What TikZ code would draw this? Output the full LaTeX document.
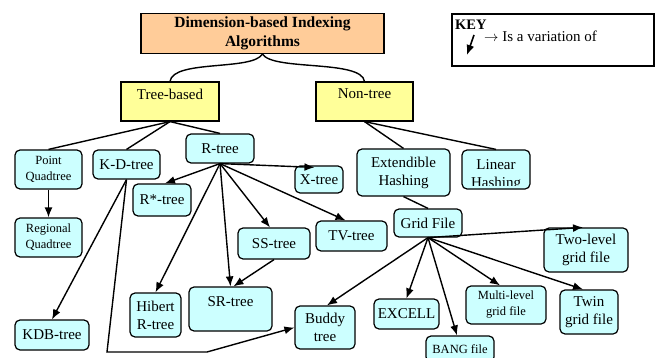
\documentclass[tikz,border=0pt]{standalone}
\usepackage{fontspec}
\setmainfont{Liberation Serif}
\usetikzlibrary{arrows.meta}
\definecolor{cyanfill}{HTML}{CCFFFF}
\definecolor{yellowfill}{HTML}{FFFF99}
\definecolor{peachfill}{HTML}{FFCC99}
\newcommand{\nrm}{\fontsize{15}{18}\selectfont}
\newcommand{\sml}{\fontsize{12.5}{16}\selectfont}
\tikzset{
  box/.style={draw, line width=1.2pt, rounded corners=5pt, fill=cyanfill, inner sep=1pt, align=center, font=\nrm},
  sbox/.style={box, font=\sml},
  catbox/.style={draw, line width=1.2pt, fill=yellowfill, align=center, font=\nrm, text depth=15pt},
  conn/.style={line width=1.4pt},
  arr/.style={line width=1.4pt, -{Latex[length=10pt,width=8pt]}},
}
\begin{document}
\begin{tikzpicture}[x=1pt,y=-1pt]
\useasboundingbox (0,0) rectangle (655,358);
\clip (0,0) rectangle (655,358);
% title and key
\node[draw, line width=1.2pt, fill=peachfill, minimum width=243pt, minimum height=39pt, align=center,
      font=\fontsize{15.5}{19}\bfseries] (title) at (262.5,33.5) {Dimension-based Indexing\\Algorithms};
\node[draw, line width=1.2pt, minimum width=202pt, minimum height=52pt] (key) at (553,40) {};
\node[font=\fontsize{14.5}{16}\bfseries, anchor=west, inner sep=0pt] (keyt) at (455,25) {KEY};
\node[font=\nrm, anchor=west, inner sep=0pt] (keyd) at (484,36) {$\rightarrow$ Is a variation of};
\coordinate (ka) at (474,35);
\coordinate (kb) at (467,55);
\draw[line width=1.6pt, -{Latex[length=10pt,width=8pt]}] (ka) -- (kb);
% categories
\node[catbox, minimum width=98pt, minimum height=39pt] (tree) at (170,101.5) {Tree-based};
\node[catbox, minimum width=97pt, minimum height=39pt] (nt) at (364.5,101.5) {Non-tree};
\draw[conn] (title.south) .. controls +(-10,17) and +(3,-22) .. (tree.north);
\draw[conn] (title.south) .. controls +(10,17) and +(-3,-22) .. (nt.north);
% tree-based nodes
\node[sbox, minimum width=67pt, minimum height=39pt] (pq) at (48.5,169.5) {Point\\Quadtree};
\node[box, minimum width=67pt, minimum height=29pt] (kd) at (126.5,164.5) {K-D-tree};
\node[box, minimum width=68pt, minimum height=29pt] (rt) at (220,148.5) {R-tree};
\node[box, minimum width=48pt, minimum height=27pt] (xt) at (319,179.5) {X-tree};
\node[box, minimum width=58pt, minimum height=32pt] (rst) at (162,200) {R*-tree};
\node[sbox, minimum width=67pt, minimum height=39pt] (rq) at (48.5,237.5) {Regional\\Quadtree};
\node[box, minimum width=72pt, minimum height=31pt] (ss) at (274,243.5) {SS-tree};
\node[box, minimum width=71pt, minimum height=30pt] (tv) at (351.5,236) {TV-tree};
\node[box, minimum width=51pt, minimum height=44pt] (hib) at (155.5,315) {Hibert\\R-tree};
\node[box, minimum width=83pt, minimum height=44pt, text depth=14pt] (sr) at (230.5,309) {SR-tree};
\node[box, minimum width=60pt, minimum height=43pt] (bud) at (325,327.5) {Buddy\\tree};
\node[box, minimum width=74pt, minimum height=30pt] (kdb) at (52,335) {KDB-tree};
% non-tree nodes
\node[box, minimum width=93pt, minimum height=47pt] (ext) at (403.5,172.5) {Extendible\\Hashing};
\node[box, minimum width=68pt, minimum height=39pt] (lin) at (496,169.5) {};
\begin{scope}
\clip (462,150) rectangle (530,185);
\node[align=center, font=\nrm, inner sep=0pt] (lint) at (496,175.5) {Linear\\Hashing};
\end{scope}
\node[box, minimum width=68pt, minimum height=28pt] (grid) at (428,223) {Grid File};
\node[box, minimum width=65pt, minimum height=30pt] (ex) at (406.5,314) {EXCELL};
\node[sbox, minimum width=68pt, minimum height=26pt] (bang) at (460,349) {BANG file};
\node[sbox, minimum width=80pt, minimum height=38pt] (ml) at (506,305) {Multi-level\\grid file};
\node[box, minimum width=58pt, minimum height=44pt] (tw) at (589,312) {Twin\\grid file};
\node[box, minimum width=84pt, minimum height=44pt] (tl) at (586,250) {Two-level\\grid file};
% plain connectors
\draw[conn] (tree.south) -- (pq.north);
\draw[conn] (tree.south) -- (kd.north);
\draw[conn] (tree.south) -- (rt.north);
\draw[conn] (nt.south) -- (ext.north);
\draw[conn] (nt.south) -- (lin.north);
\draw[conn] (ext.south) -- (grid.north);
% variation arrows
\draw[arr] (pq.south) -- (rq.north);
\draw[arr] (rt.south) -- ([xshift=20pt,yshift=-2pt]xt.north west);
\draw[arr] (rt.south) -- ([xshift=3pt]rst.north);
\draw[arr] (rt.south) -- (hib.north);
\draw[arr] (rt.south) -- (sr.north);
\draw[arr] (rt.south) -- ([xshift=-4pt]ss.north);
\draw[arr] (rt.south) -- ([xshift=-6pt]tv.north);
\draw[arr] (ss.south) -- ([xshift=3pt]sr.north);
\draw[arr] (kd.south) -- (kdb.north);
\coordinate (c1) at (107,352);
\coordinate (c2) at (207,352);
\draw[arr] (kd.south) -- (c1) -- (c2) -- (bud.west);
\draw[arr] (grid.south) -- ([xshift=-3pt]tl.north);
\draw[arr] (grid.south) -- ([xshift=2pt]bud.north);
\draw[arr] (grid.south) -- (ex.north);
\draw[arr] (grid.south) -- ([xshift=-3pt]bang.north);
\draw[arr] (grid.south) -- ([xshift=-6pt]ml.north);
\draw[arr] (grid.south) -- ([xshift=-6pt]tw.north);
\end{tikzpicture}
\end{document}
